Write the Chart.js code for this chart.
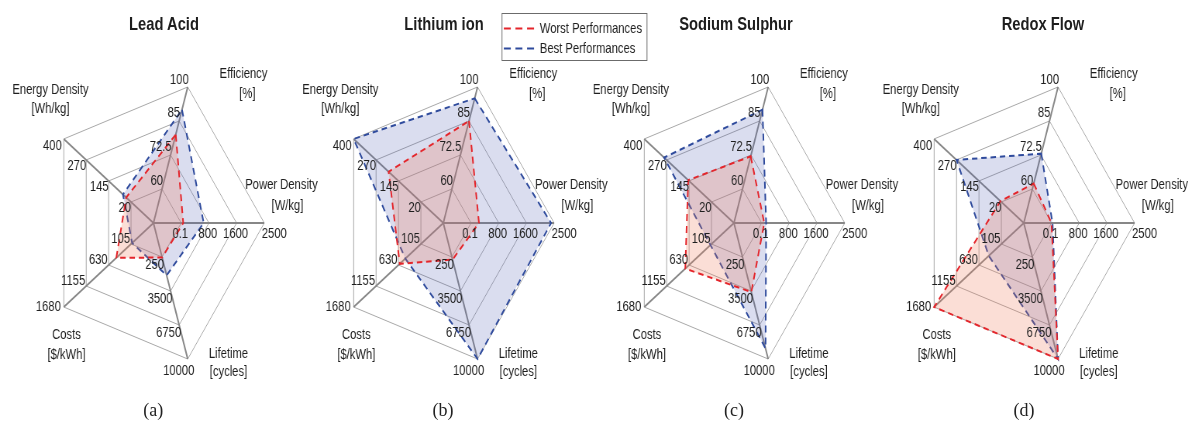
<!DOCTYPE html>
<html>
<head>
<meta charset="utf-8">
<script src="https://cdn.jsdelivr.net/npm/chart.js@4.4.1/dist/chart.umd.min.js"></script>
<style>
  html, body { margin: 0; padding: 0; background: #fff; overflow: hidden; }
  body { width: 1191px; height: 423px; position: relative; font-family: "Liberation Sans", Arial, sans-serif; }
  /* the whole figure is squeezed horizontally, text included */
  #wrap { position: absolute; left: 0; top: 0; width: 1537px; height: 423px; transform: scaleX(0.775); transform-origin: 0 0; }
  #wrap canvas { position: absolute; top: 0; }
  .title { position: absolute; top: 13px; line-height: 22px; font-weight: bold; font-size: 19px; color: #1e1e1e; transform: translateX(-50%); white-space: nowrap; }
  .cap { position: absolute; top: 399px; line-height: 22px; font-family: "Liberation Serif", "Times New Roman", serif; font-size: 18px; color: #222; transform: translateX(-50%); }
</style>
</head>
<body>
<div id="wrap"></div>
<script>
const labels = ["Efficiency", "Power Density", "Lifetime", "Costs", "Energy Density"];
const units = ["[%]", "[W/kg]", "[cycles]", "[$/kWh]", "[Wh/kg]"];

// value at the centre, then rings 1..4 for every axis
const effTicks = [47.5, 60, 72.5, 85, 100];
const powerTicks = [0, 0.1, 800, 1600, 2500];
const lifeTicks = [0, 250, 3500, 6750, 10000];
const costTicks = [0, 105, 630, 1155, 1680];
const energyTicks = [0, 20, 145, 270, 400];

const titles = ["Lead Acid", "Lithium ion", "Sodium Sulphur", "Redox Flow"];
const captions = ["(a)", "(b)", "(c)", "(d)"];

// order: efficiency, power density, lifetime, costs, energy density
const leadWorst = [80, 60, 300, 450, 47];
const leadBest = [90, 650, 2000, 100, 65];
const liWorst = [85, 230, 500, 600, 200];
const liBest = [95, 2400, 10000, 470, 400];
const nasWorst = [72, 75, 3600, 720, 150];
const nasBest = [90, 130, 9000, 130, 285];
const redoxWorst = [62, 0.1, 10000, 1680, 25];
const redoxBest = [73, 30, 10000, 400, 270];

const S = 0.775;
const centersX = [153.3, 443, 734, 1024];
const titleX = [164, 444, 736, 1043];
const CY = 223, R = 143, CW = 600, CX = 280;

const RED = "#e4252b", BLUE = "#2e4a9c";

const axisTicks = [effTicks, powerTicks, lifeTicks, costTicks, energyTicks];

function toRing(v, ticks) {
    for (let k = 1; k < ticks.length; k++) {
        if (v <= ticks[k] || k === ticks.length - 1) {
            return (k - 1) + (v - ticks[k - 1]) / (ticks[k] - ticks[k - 1]);
        }
    }
}
const toRings = vals => vals.map((v, i) => toRing(v, axisTicks[i]));

// offsets in screen px (after squeeze)
const tickPlace = [
    { align: "right", dx: 1, dy: -8, lastAlign: "right", last: [1, -7] },
    { align: "center", dx: -1, dy: 11, lastAlign: "center", last: [10, 11] },
    { align: "right", dx: 2, dy: 8, lastAlign: "center", last: [-9, 12] },
    { align: "right", dx: -1, dy: -5, lastAlign: "right", last: [-3, 0] },
    { align: "right", dx: 0, dy: 6, lastAlign: "right", last: [-2, 7] }
];
const namePlace = [[90, -149, 94, -129], [128, -38, 134, -17], [75, 131, 75, 149], [-87, 112, -87, 132], [-103, -133, -103, -114]];

function drawLegend(chart) {
    const ctx = chart.ctx;
    const X = x => x / S - (centersX[1] / S - CX);
    ctx.strokeStyle = "#6b6b6b";
    ctx.lineWidth = 1;
    ctx.setLineDash([]);
    ctx.strokeRect(X(501.7), 13.5, X(646.7) - X(501.7), 47);
    chart.data.datasets.forEach((ds, j) => {
        const y = 28.5 + j * 20;
        ctx.strokeStyle = ds.borderColor;
        ctx.lineWidth = 2;
        ctx.setLineDash([9, 6]);
        ctx.beginPath();
        ctx.moveTo(X(503.5), y);
        ctx.lineTo(X(535), y);
        ctx.stroke();
        ctx.setLineDash([]);
        ctx.textAlign = "left";
        ctx.fillText(ds.label, X(539.5), y);
    });
}

const axisText = {
    id: "axisText",
    afterDraw(chart, args, opts) {
        const ctx = chart.ctx;
        const sc = chart.scales.r;
        ctx.save();
        ctx.fillStyle = "#1e1e1e";
        ctx.font = '14.5px "Liberation Sans", Arial, sans-serif';
        ctx.textBaseline = "middle";
        axisTicks.forEach((t, i) => {
            const p = tickPlace[i];
            for (let k = 1; k <= 4; k++) {
                const pt = sc.getPointPositionForValue(i, k);
                const off = k === 4 ? p.last : [p.dx, p.dy];
                ctx.textAlign = k === 4 ? p.lastAlign : p.align;
                ctx.fillText(String(t[k]), pt.x + off[0] / S, pt.y + off[1]);
            }
        });
        ctx.textAlign = "center";
        namePlace.forEach((n, i) => {
            ctx.fillText(labels[i], sc.xCenter + n[0] / S, sc.yCenter + n[1]);
            ctx.fillText(units[i], sc.xCenter + n[2] / S, sc.yCenter + n[3]);
        });
        if (opts.legend) drawLegend(chart);
        ctx.restore();
    }
};

const series = [[leadWorst, leadBest], [liWorst, liBest], [nasWorst, nasBest], [redoxWorst, redoxBest]];
const wrap = document.getElementById("wrap");

series.forEach((pair, c) => {
    const cv = document.createElement("canvas");
    cv.width = CW;
    cv.height = 423;
    cv.style.left = (centersX[c] / S - CX) + "px";
    wrap.appendChild(cv);

    new Chart(cv, {
        type: "radar",
        data: {
            labels: labels,
            datasets: [{
                label: "Worst Performances",
                data: toRings(pair[0]),
                borderColor: RED,
                backgroundColor: "rgba(238,128,96,0.26)",
                borderDash: [7, 5],
                borderWidth: 2,
                fill: true,
                pointRadius: 0
            }, {
                label: "Best Performances",
                data: toRings(pair[1]),
                borderColor: BLUE,
                backgroundColor: "rgba(80,95,180,0.21)",
                borderDash: [7, 5],
                borderWidth: 2,
                fill: true,
                pointRadius: 0
            }]
        },
        options: {
            responsive: false,
            animation: false,
            events: [],
            layout: { padding: { left: CX - R, right: CW - CX - R, top: CY - R, bottom: 423 - CY - R } },
            plugins: {
                legend: { display: false },
                tooltip: { enabled: false },
                axisText: { legend: c === 1 }
            },
            scales: {
                r: {
                    min: 0,
                    max: 4,
                    startAngle: 18,
                    ticks: { display: false, stepSize: 1 },
                    pointLabels: { display: false },
                    grid: { color: "#a8a8a8", lineWidth: 1 },
                    angleLines: { color: "#878787", lineWidth: 2 }
                }
            }
        },
        plugins: [axisText]
    });

    const t = document.createElement("div");
    t.className = "title";
    t.textContent = titles[c];
    t.style.left = (titleX[c] / S) + "px";
    wrap.appendChild(t);

    const cap = document.createElement("div");
    cap.className = "cap";
    cap.textContent = captions[c];
    cap.style.left = centersX[c] + "px";
    document.body.appendChild(cap);
});
</script>
</body>
</html>
